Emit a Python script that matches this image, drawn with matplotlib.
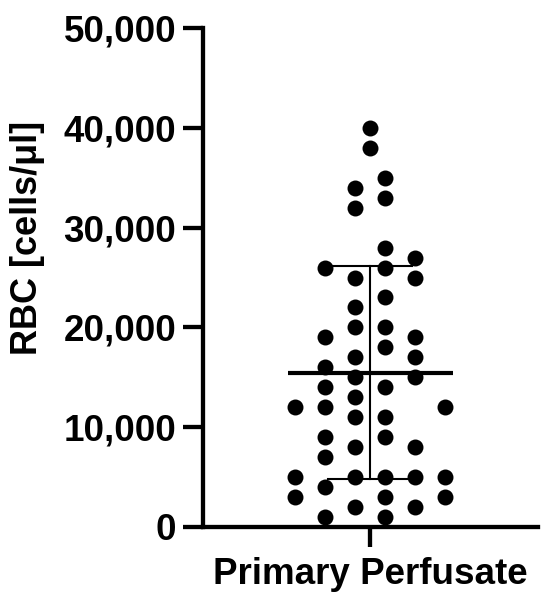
import matplotlib
matplotlib.use("Agg")
import matplotlib.pyplot as plt
from matplotlib.ticker import FuncFormatter
import numpy as np

plt.rcParams["font.family"] = ["Liberation Sans", "DejaVu Sans"]
plt.rcParams["font.weight"] = "bold"

# RBC counts read off the swarm, with the column slot of each dot
# (slot unit = half a dot spacing to the left/right of the category centre)
rbc = [40000, 38000, 35000, 34000, 33000, 32000, 28000, 27000,
       26000, 26000, 25000, 25000, 23000, 22000, 20000, 20000,
       19000, 19000, 18000, 17000, 17000, 16000, 15000, 15000,
       14000, 14000, 13000, 12000, 12000, 12000, 11000, 11000,
       9000, 9000, 8000, 8000, 7000,
       5000, 5000, 5000, 5000, 5000, 4000, 3000, 3000, 3000,
       2000, 2000, 1000, 1000]
slot = [0, 0, 1, -1, 1, -1, 1, 3,
        -3, 1, -1, 3, 1, -1, -1, 1,
        -3, 3, 1, -1, 3, -3, -1, 3,
        -3, 1, -1, -5, -3, 5, -1, 1,
        -3, 1, -1, 3, -3,
        -5, -1, 1, 3, 5, -3, -5, 1, 5,
        -1, 3, -3, 1]
category = "Primary Perfusate"
yticks = [0, 10000, 20000, 30000, 40000, 50000]

vals = np.array(rbc, dtype=float)
mean = vals.mean()
sd = vals.std(ddof=1)

fig = plt.figure(figsize=(5.5, 6.05), dpi=100)
ax = fig.add_axes([203 / 550, 78 / 605, 335 / 550, 499 / 605])

ax.scatter(slot, rbc, s=132, color="black", linewidths=0, zorder=3,
           clip_on=False)

# mean and SD error bar
ax.plot([-5.5, 5.5], [mean, mean], color="black", lw=3.0, zorder=4,
        solid_capstyle="butt")
ax.plot([0, 0], [mean - sd, mean + sd], color="black", lw=1.5, zorder=2)
for yv in (mean - sd, mean + sd):
    ax.plot([-2.8, 2.8], [yv, yv], color="black", lw=1.5, zorder=2)

ax.set_xlim(-167 / 15, 168 / 15)
ax.set_ylim(0, 50000)
ax.set_yticks(yticks)
ax.yaxis.set_major_formatter(FuncFormatter(lambda v, p: f"{int(v):,}"))
ax.set_xticks([0])
ax.set_xticklabels([category])

for s in ("top", "right"):
    ax.spines[s].set_visible(False)
for s in ("left", "bottom"):
    ax.spines[s].set_linewidth(3.1)
    ax.spines[s].set_capstyle("projecting")

ax.tick_params(axis="both", width=3.1, length=14.4, labelsize=26.5)
ax.tick_params(axis="y", pad=5)
ax.tick_params(axis="x", pad=7)
for lab in ax.get_xticklabels() + ax.get_yticklabels():
    lab.set_fontweight("bold")

fig.text(28 / 550, 1 - 238 / 605, "RBC [cells/μl]", rotation=90,
         ha="center", va="center", fontsize=26, fontweight="bold")

fig.savefig("out.png", dpi=100)
